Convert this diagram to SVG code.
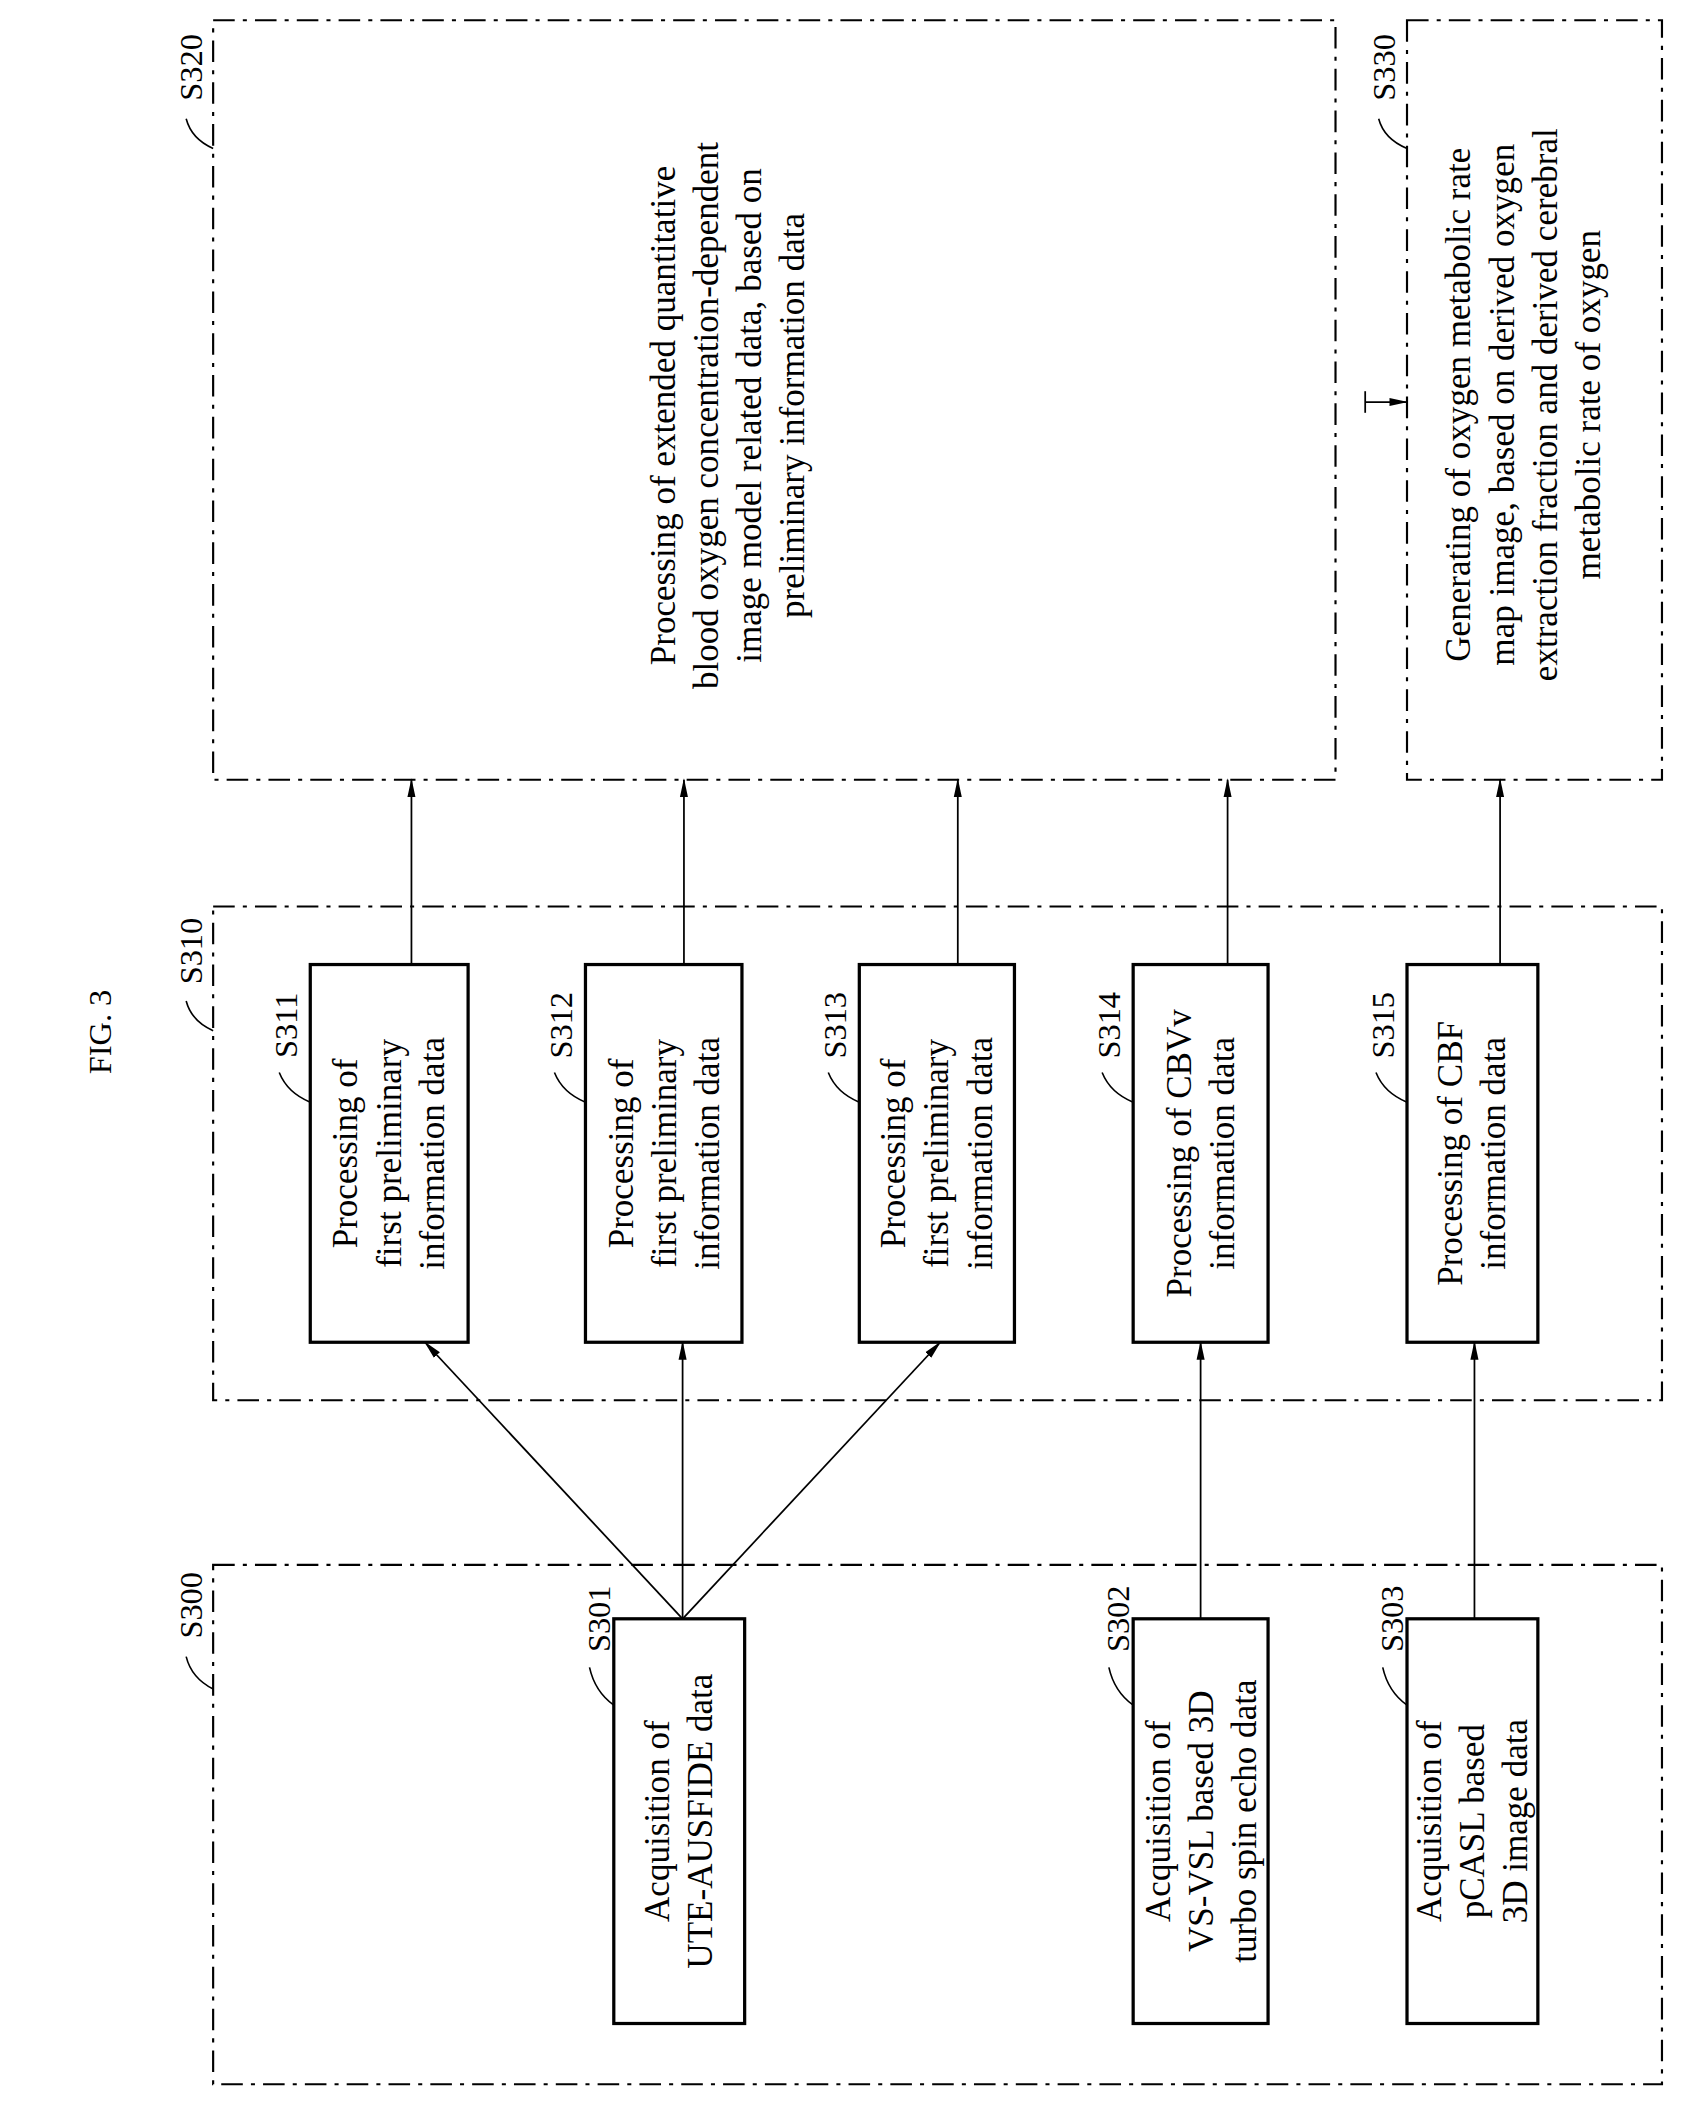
<svg xmlns="http://www.w3.org/2000/svg" width="1686" height="2110" viewBox="0 0 1686 2110">
<style>
.d{fill:none;stroke:#000;stroke-width:1.6;stroke-dasharray:16 6 3 6}
.b{fill:#fff;stroke:#000;stroke-width:2.4}
.c{fill:none;stroke:#000;stroke-width:1.2}
.t{font-family:"Liberation Serif",serif;font-size:26px;text-anchor:middle}
.l{font-family:"Liberation Serif",serif;font-size:24px;text-anchor:middle}
</style>
<defs><marker id="a" markerWidth="14" markerHeight="8" refX="13" refY="4" orient="auto" markerUnits="userSpaceOnUse"><path d="M0,1 L14,4 L0,7 Z"/></marker></defs>
<rect width="1686" height="2110" fill="#fff"/>
<g transform="scale(1.349)">
<text class="l" transform="translate(82,765) rotate(-90)" font-size="26">FIG. 3</text>
<g id="S300"><rect class="d" x="158" y="1160" width="1074" height="385"/><text class="l" transform="translate(150,1190) rotate(-90)">S300</text><path class="c" d="M138,1228 q4,16 20,24"/></g>
<g id="S310"><rect class="d" x="158" y="672" width="1074" height="366"/><text class="l" transform="translate(150,705) rotate(-90)">S310</text><path class="c" d="M138,742 q4,15 20,22"/></g>
<g id="S320"><rect class="d" x="158" y="15" width="832" height="563"/><text class="l" transform="translate(150,50) rotate(-90)">S320</text><path class="c" d="M138,88 q4,15 20,22"/>
<text class="t" transform="translate(540,308) rotate(-90)"><tspan x="0" y="-40">Processing of extended quantitative</tspan><tspan x="0" y="-8">blood oxygen concentration-dependent</tspan><tspan x="0" y="24">image model related data, based on</tspan><tspan x="0" y="56">preliminary information data</tspan></text></g>
<g id="S330"><rect class="d" x="1043" y="15" width="189" height="563"/><text class="l" transform="translate(1034,50) rotate(-90)">S330</text><path class="c" d="M1022,88 q4,15 21,22"/>
<text class="t" transform="translate(1130,300) rotate(-90)"><tspan x="0" y="-40">Generating of oxygen metabolic rate</tspan><tspan x="0" y="-8">map image, based on derived oxygen</tspan><tspan x="0" y="24">extraction fraction and derived cerebral</tspan><tspan x="0" y="56">metabolic rate of oxygen</tspan></text></g>
<g id="S301"><rect class="b" x="455" y="1200" width="97" height="300"/><text class="l" transform="translate(452,1200) rotate(-90)">S301</text><path class="c" d="M437,1236 q4,18 18,28"/><text class="t" transform="translate(503,1350) rotate(-90)"><tspan x="0" y="-7">Acquisition of</tspan><tspan x="0" y="25">UTE-AUSFIDE data</tspan></text></g>
<g id="S302"><rect class="b" x="840" y="1200" width="100" height="300"/><text class="l" transform="translate(837,1200) rotate(-90)">S302</text><path class="c" d="M822,1236 q4,18 18,28"/><text class="t" transform="translate(890,1350) rotate(-90)"><tspan x="0" y="-23">Acquisition of</tspan><tspan x="0" y="9">VS-VSL based 3D</tspan><tspan x="0" y="41">turbo spin echo data</tspan></text></g>
<g id="S303"><rect class="b" x="1043" y="1200" width="97" height="300"/><text class="l" transform="translate(1040,1200) rotate(-90)">S303</text><path class="c" d="M1025,1236 q4,18 18,28"/><text class="t" transform="translate(1091,1350) rotate(-90)"><tspan x="0" y="-23">Acquisition of</tspan><tspan x="0" y="9">pCASL based</tspan><tspan x="0" y="41">3D image data</tspan></text></g>
<g id="S311"><rect class="b" x="230" y="715" width="117" height="280"/><text class="l" transform="translate(220,760) rotate(-90)">S311</text><path class="c" d="M207,795 q6,15 23,22"/><text class="t" transform="translate(288,855) rotate(-90)"><tspan x="0" y="-23">Processing of</tspan><tspan x="0" y="9">first preliminary</tspan><tspan x="0" y="41">information data</tspan></text></g>
<g id="S312"><rect class="b" x="434" y="715" width="116" height="280"/><text class="l" transform="translate(424,760) rotate(-90)">S312</text><path class="c" d="M411,795 q6,15 23,22"/><text class="t" transform="translate(492,855) rotate(-90)"><tspan x="0" y="-23">Processing of</tspan><tspan x="0" y="9">first preliminary</tspan><tspan x="0" y="41">information data</tspan></text></g>
<g id="S313"><rect class="b" x="637" y="715" width="115" height="280"/><text class="l" transform="translate(627,760) rotate(-90)">S313</text><path class="c" d="M614,795 q6,15 23,22"/><text class="t" transform="translate(694,855) rotate(-90)"><tspan x="0" y="-23">Processing of</tspan><tspan x="0" y="9">first preliminary</tspan><tspan x="0" y="41">information data</tspan></text></g>
<g id="S314"><rect class="b" x="840" y="715" width="100" height="280"/><text class="l" transform="translate(830,760) rotate(-90)">S314</text><path class="c" d="M817,795 q6,15 23,22"/><text class="t" transform="translate(890,855) rotate(-90)"><tspan x="0" y="-7">Processing of CBVv</tspan><tspan x="0" y="25">information data</tspan></text></g>
<g id="S315"><rect class="b" x="1043" y="715" width="97" height="280"/><text class="l" transform="translate(1033,760) rotate(-90)">S315</text><path class="c" d="M1020,795 q6,15 23,22"/><text class="t" transform="translate(1091,855) rotate(-90)"><tspan x="0" y="-7">Processing of CBF</tspan><tspan x="0" y="25">information data</tspan></text></g>
<g id="connectors" stroke="#000" stroke-width="1.3" fill="none" marker-end="url(#a)">
<path d="M506,1200 L315,995"/><path d="M506,1200 L506,995"/><path d="M506,1200 L697,995"/>
<path d="M890,1200 L890,995"/><path d="M1093,1200 L1093,995"/>
<path d="M305,715 L305,578"/><path d="M507,715 L507,578"/><path d="M710,715 L710,578"/><path d="M910,715 L910,578"/><path d="M1112,715 L1112,578"/>
<path d="M1012,298 L1043,298"/><path d="M1012,290 L1012,306" marker-end="none"/>
</g>
</g>
</svg>
